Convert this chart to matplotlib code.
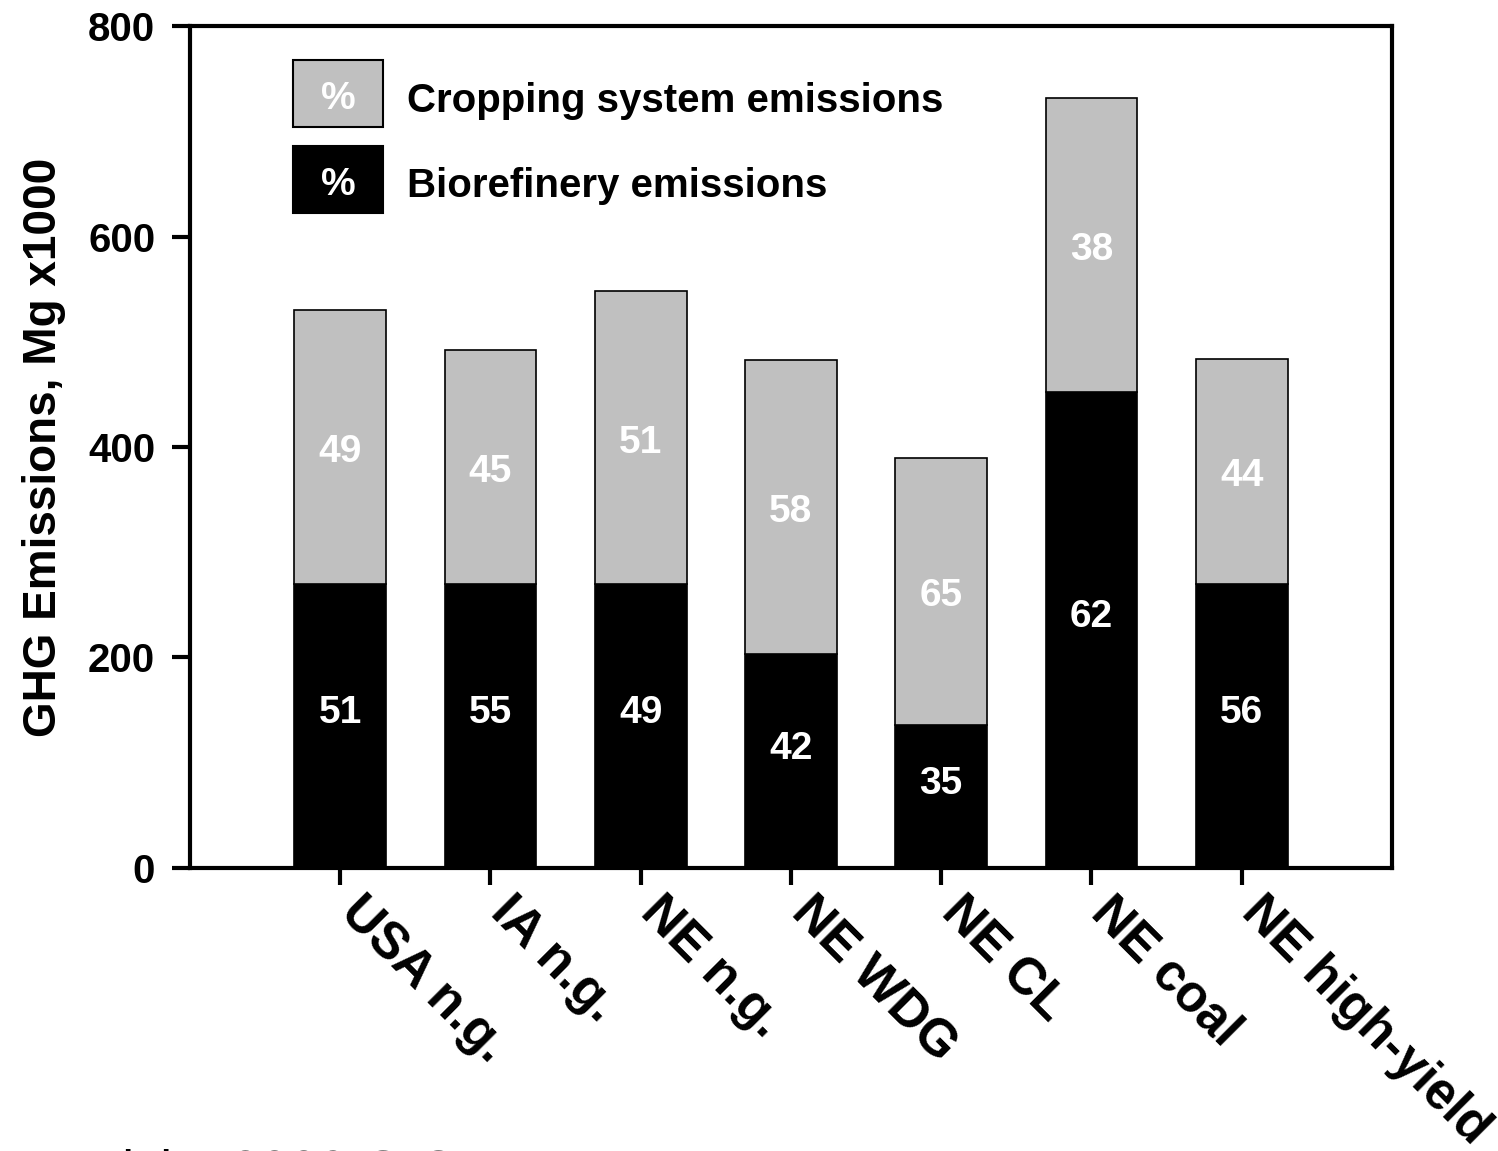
import matplotlib
matplotlib.use("Agg")
import matplotlib.pyplot as plt
from matplotlib.patches import Rectangle

plt.rcParams['font.family'] = ['Liberation Sans', 'DejaVu Sans']

# Scenario data (Mg CO2e x1000)
scenarios = ["USA n.g.", "IA n.g.", "NE n.g.", "NE WDG", "NE CL", "NE coal", "NE high-yield"]
biorefinery = [270, 270, 270, 203, 136, 452, 270]
total = [530, 492, 548, 483, 390, 732, 484]
cropping = [t - b for t, b in zip(total, biorefinery)]
crop_pct = [49, 45, 51, 58, 65, 38, 44]
bio_pct = [51, 55, 49, 42, 35, 62, 56]
yticks = [0, 200, 400, 600, 800]

GRAY = "#c0c0c0"

fig = plt.figure(figsize=(14.98, 11.51), dpi=100)
ax = fig.add_axes([0.1268, 0.2459, 0.8024, 0.7315])

x = list(range(len(scenarios)))
w = 0.61
ax.bar(x, biorefinery, width=w, color="black", edgecolor="black", linewidth=1.2, zorder=2)
ax.bar(x, cropping, width=w, bottom=biorefinery, color=GRAY, edgecolor="black",
       linewidth=1.2, zorder=2)

for xi, b, c, bp, cp in zip(x, biorefinery, cropping, bio_pct, crop_pct):
    ax.text(xi, b / 2 + 12, str(bp), color="white", fontsize=28, fontweight="bold",
            ha="center", va="center", zorder=3)
    ax.text(xi, b + c / 2 - 5, str(cp), color="white", fontsize=28, fontweight="bold",
            ha="center", va="center", zorder=3)

ax.set_xlim(-1, 7)
ax.set_ylim(0, 800)
ax.set_yticks(yticks)
ax.set_yticklabels([str(t) for t in yticks], fontsize=29, fontweight="bold")
ax.set_xticks(x)
ax.set_xticklabels([])
ax.tick_params(axis="y", direction="out", length=13, width=3, pad=12)
ax.tick_params(axis="x", direction="out", length=12, width=3)
for s in ax.spines.values():
    s.set_linewidth(3)

# Diagonal category labels hanging just right of each tick
for xi, name in zip(x, scenarios):
    ax.annotate(name, xy=(xi, 0), xycoords=("data", "axes fraction"),
                xytext=(18, -14), textcoords="offset points",
                fontsize=37, fontweight="bold", rotation=-45,
                ha="left", va="top", rotation_mode="anchor", annotation_clip=False)

ax.set_ylabel("GHG Emissions, Mg x1000", fontsize=33, fontweight="bold", labelpad=16)

# Legend built from boxes carrying a percent sign
legend_items = [(GRAY, "Cropping system emissions", 0.880, 0.8979),
                ("black", "Biorefinery emissions", 0.778, 0.7969)]
for col, label, y0, yb in legend_items:
    ax.add_patch(Rectangle((0.0857, y0), 0.075, 0.0796, transform=ax.transAxes,
                           facecolor=col, edgecolor="black", linewidth=1.5, zorder=4))
    ax.text(0.0857 + 0.0375, y0 + 0.0328, "%", transform=ax.transAxes, color="white",
            fontsize=28, fontweight="bold", ha="center", va="center", zorder=5)
    ax.text(0.1805, yb, label, transform=ax.transAxes, color="black",
            fontsize=29, fontweight="bold", ha="left", va="baseline", zorder=5)

fig.text(0.062, -0.032, "Liska 2009 G.C.B.", fontsize=38, ha="left", va="baseline")

fig.savefig("out.png", dpi=100)
